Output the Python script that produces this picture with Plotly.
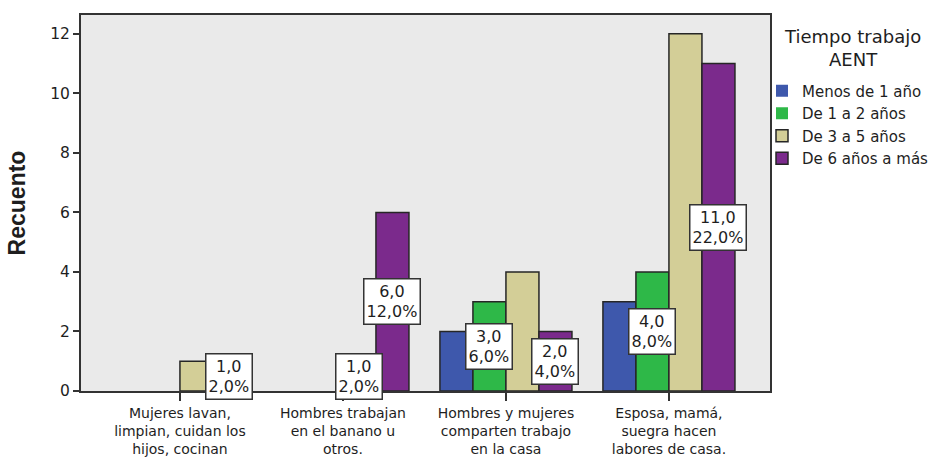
import plotly.graph_objects as go

# Survey counts: household-chore opinion by time working (AENT)
categories = [
    "Mujeres lavan,<br>limpian, cuidan los<br>hijos, cocinan",
    "Hombres trabajan<br>en el banano u<br>otros.",
    "Hombres y mujeres<br>comparten trabajo<br>en la casa",
    "Esposa, mamá,<br>suegra hacen<br>labores de casa.",
]
series_names = ["Menos de 1 año", "De 1 a 2 años", "De 3 a 5 años", "De 6 años a más"]
menos_1 = [0, 0, 2, 3]
de_1_a_2 = [0, 0, 3, 4]
de_3_a_5 = [1, 1, 4, 12]
de_6_mas = [1, 6, 2, 11]
series_values = [menos_1, de_1_a_2, de_3_a_5, de_6_mas]
colors = ["#3E58AC", "#2EB848", "#D3CE97", "#7B2A8C"]

# (category index, series index) of the bars that carry a value label
labeled_bars = [(0, 3), (1, 2), (1, 3), (2, 1), (2, 3), (3, 1), (3, 3)]

y_ticks = [0, 2, 4, 6, 8, 10, 12]
legend_title = "Tiempo trabajo<br>AENT"

FONT = "DejaVu Sans"
TITLE_FONT = "Liberation Sans, Arial, sans-serif"
TEXT = "#1E1E1E"
BARGAP = 0.19
W, H = 931, 459
M_L, M_R, M_T, M_B = 81, 161, 15, 68
PLOT_W = W - M_L - M_R
PLOT_H = H - M_T - M_B

total = sum(sum(v) for v in series_values)
n_series = len(series_values)
bar_w = (1 - BARGAP) / n_series
xpos = list(range(len(categories)))

fig = go.Figure()
for name, vals, col in zip(series_names, series_values, colors):
    fig.add_trace(go.Bar(
        x=xpos, y=vals, name=name,
        marker=dict(color=col,
                    line=dict(color="#262626",
                              width=[1.5 if v > 0 else 0 for v in vals])),
    ))

def fmt(v):
    return f"{v:.1f}".replace(".", ",")

# boxed count / percentage labels, centred half-way up their bar
for ci, si in labeled_bars:
    v = series_values[si][ci]
    pct = v / total * 100
    fig.add_annotation(
        x=ci + (si - (n_series - 1) / 2) * bar_w, y=v / 2,
        xref="x", yref="y",
        text=f"{fmt(v)}<br>{fmt(pct)}%",
        showarrow=False,
        bgcolor="white", bordercolor="#333333", borderwidth=1.5, borderpad=2,
        font=dict(family=FONT, size=16, color=TEXT),
    )

# legend heading, centred above the legend entries
fig.add_annotation(
    x=(852 - M_L) / PLOT_W, y=1 - (48 - M_T) / PLOT_H,
    xref="paper", yref="paper",
    text=legend_title, showarrow=False, align="center",
    xanchor="center", yanchor="middle",
    font=dict(family=FONT, size=18, color=TEXT),
)

fig.update_layout(
    width=W, height=H,
    margin=dict(l=M_L, r=M_R, t=M_T, b=M_B, autoexpand=False),
    barmode="group", bargap=BARGAP, bargroupgap=0,
    paper_bgcolor="white", plot_bgcolor="#EAEAEA",
    font=dict(family=FONT, size=15, color=TEXT),
    legend=dict(
        x=(762 - M_L) / PLOT_W, xanchor="left",
        y=0.842, yanchor="top",
        font=dict(family=FONT, size=15, color=TEXT),
        tracegroupgap=0, itemwidth=30, bgcolor="rgba(0,0,0,0)",
    ),
    showlegend=True,
)
fig.update_xaxes(
    range=[-0.607, 3.62], tickvals=xpos, ticktext=categories,
    showline=True, mirror=True, linecolor="#333333", linewidth=2,
    ticks="outside", ticklen=8, tickwidth=1.5, tickcolor="#333333",
    showgrid=False, zeroline=False, automargin=False,
    tickfont=dict(family=FONT, size=14, color=TEXT),
)
fig.update_yaxes(
    range=[0, 12.63], tickvals=y_ticks,
    showline=True, mirror=True, linecolor="#333333", linewidth=2,
    ticks="outside", ticklen=6, tickwidth=1.5, tickcolor="#333333",
    showgrid=False, zeroline=False, automargin=False,
    tickfont=dict(family=FONT, size=15.5, color=TEXT),
    title=dict(text="<b>Recuento</b>", standoff=18,
               font=dict(family=TITLE_FONT, size=23, color=TEXT)),
)

fig.write_html("out.html")
